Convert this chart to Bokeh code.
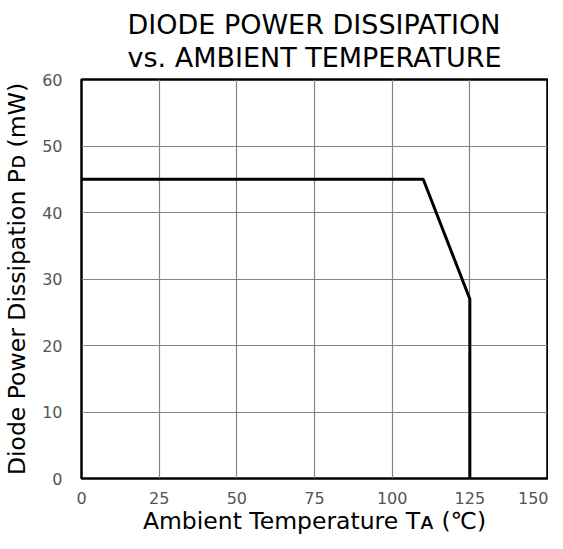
from bokeh.plotting import figure
from bokeh.models import Range1d, FixedTicker, Title
from bokeh.embed import file_html
from bokeh.resources import INLINE

# ---- data ----
temp_c = [0, 110, 125, 125]
power_mw = [45, 45, 27, 0]
x_ticks = [0, 25, 50, 75, 100, 125, 150]
y_ticks = [0, 10, 20, 30, 40, 50, 60]
title_lines = ["DIODE POWER DISSIPATION", "vs. AMBIENT TEMPERATURE"]
x_label = "Ambient Temperature T\u1d00 (\u2103)"
y_label = "Diode Power Dissipation P\u1d05 (mW)"

FONT = "DejaVu Sans"

p = figure(frame_width=466, frame_height=399,
           min_border_left=80, min_border_right=1,
           min_border_top=79, min_border_bottom=40,
           x_range=Range1d(0, 150), y_range=Range1d(0, 60),
           output_backend="svg", toolbar_location=None,
           background_fill_color="white", border_fill_color="white")

p.add_layout(Title(text="\n".join(title_lines), text_font=FONT,
                   text_font_size="27px", text_font_style="normal",
                   text_color="black", text_line_height=1.05,
                   align="center", offset=-3, standoff=13), "above")

p.outline_line_color = "black"
p.outline_line_width = 2.5

for ax in (p.xaxis[0], p.yaxis[0]):
    ax.axis_line_color = None
    ax.major_tick_line_color = None
    ax.minor_tick_line_color = None
    ax.major_label_text_font = FONT
    ax.major_label_text_font_size = "16px"
    ax.major_label_text_color = "#555555"
    ax.axis_label_text_font = FONT
    ax.axis_label_text_font_size = "23.5px"
    ax.axis_label_text_font_style = "normal"
    ax.axis_label_text_color = "black"

p.xaxis.ticker = FixedTicker(ticks=x_ticks)
p.yaxis.ticker = FixedTicker(ticks=y_ticks)
p.xaxis.axis_label = x_label
p.yaxis.axis_label = y_label
p.xaxis.major_label_standoff = 7
p.xaxis.axis_label_standoff = 0
p.yaxis.major_label_standoff = 13
p.yaxis.axis_label_standoff = 8

p.xgrid.ticker = FixedTicker(ticks=x_ticks)
p.ygrid.ticker = FixedTicker(ticks=y_ticks)
p.grid.grid_line_color = "#858585"
p.grid.grid_line_width = 1.2

p.line(temp_c, power_mw, line_color="black", line_width=3)

open("out.html", "w").write(file_html(p, INLINE))
